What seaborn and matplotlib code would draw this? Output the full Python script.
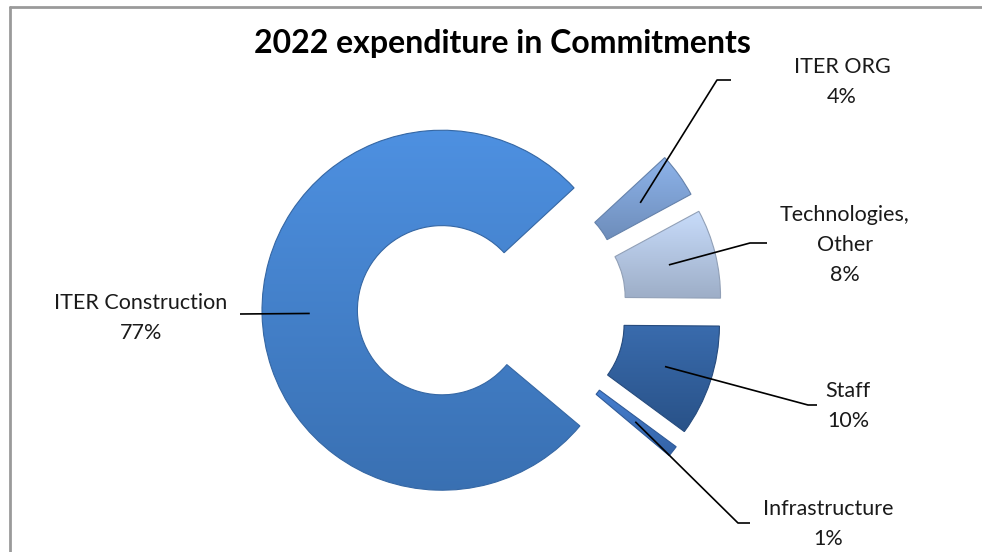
import numpy as np
import matplotlib
matplotlib.use("Agg")
import matplotlib.pyplot as plt
import seaborn as sns
from matplotlib.lines import Line2D
from matplotlib.patches import PathPatch
from matplotlib.colors import to_rgb

# ---- data ----
categories = ["ITER Construction", "ITER ORG", "Technologies,\nOther", "Staff", "Infrastructure"]
shares = [77, 4, 8, 10, 1]
pct_labels = ["77%", "4%", "8%", "10%", "1%"]
colors = ["#4281cd", "#7ea2d6", "#b5c8e5", "#2f5e9c", "#3b71be"]
title = "2022 expenditure in Commitments"

W, H = 982, 552
sns.set_theme(style="white")
plt.rcParams['font.family'] = ['Lato', 'DejaVu Sans']

fig = plt.figure(figsize=(W / 100, H / 100), dpi=100)
ax = fig.add_axes([0, 0, 1, 1])

R = 180
ring_w = 0.53 * R
expl = 50
cx, cy = 442 + expl, H - 309

wedges, _ = ax.pie(shares, radius=R, center=(cx, cy), explode=[expl] * len(shares),
                   counterclock=False, startangle=-40, colors=colors,
                   wedgeprops=dict(width=ring_w, edgecolor="none", linewidth=0))
ax.set_xlim(0, W)
ax.set_ylim(0, H)
ax.set_aspect("equal")
ax.axis("off")

# soft vertical gradient on each wedge (lighter top, darker bottom)
for w, c in zip(wedges, colors):
    base = np.array(to_rgb(c))
    top = np.clip(base * 1.06 + 0.03, 0, 1)
    bot = base * 0.87
    t = np.linspace(0, 1, 256)[:, None]
    grad = (top[None, :] * (1 - t) + bot[None, :] * t)[:, None, :]
    grad = np.repeat(grad, 2, axis=1)
    x0, y0, x1, y1 = w.get_path().get_extents(w.get_patch_transform()).extents
    im = ax.imshow(grad, extent=(x0, x1, y0, y1), origin="upper", aspect="auto",
                   interpolation="bilinear", zorder=w.get_zorder() + 0.1)
    im.set_clip_path(w)
    w.set_facecolor("none")
    ax.add_patch(PathPatch(w.get_path(), transform=w.get_patch_transform() + ax.transData,
                           fill=False, edgecolor=tuple(base * 0.8), lw=0.8,
                           zorder=w.get_zorder() + 0.2))
ax.set_xlim(0, W)
ax.set_ylim(0, H)

# label layout (image pixel coords, y downward)
label_pos = [(141, 303), (842, 67), (845, 215), (848, 391), (828, 509)]
leader_pts = [[(240, 314)],
              [(717, 80), (731, 80)],
              [(750, 243), (767, 243)],
              [(808, 405), (817, 405)],
              [(738, 523), (750, 523)]]
line_gap = 30

for w, cat, pct, (lx, ly), pts in zip(wedges, categories, pct_labels, label_pos, leader_pts):
    tm = np.deg2rad((w.theta1 + w.theta2) / 2)
    rm = w.r - w.width / 2
    axp = w.center[0] + rm * np.cos(tm)
    ayp = w.center[1] + rm * np.sin(tm)
    xs = [axp] + [p[0] for p in pts]
    ys = [ayp] + [H - p[1] for p in pts]
    ax.plot(xs, ys, color="black", lw=1.2, solid_capstyle="butt", zorder=5)
    lines = (cat + "\n" + pct).split("\n")
    for i, t in enumerate(lines):
        ax.text(lx, H - (ly + i * line_gap), t, ha="center", va="center",
                fontsize=15.5, color="#1a1a1a")

ax.text(502, H - 53, title, ha="center", va="baseline", fontsize=23,
        fontweight="bold", color="black")

# chart border
fig.add_artist(Line2D([10 / W, 1], [1 - 7 / H, 1 - 7 / H], transform=fig.transFigure,
                      color="#9a9a9a", lw=2))
fig.add_artist(Line2D([10 / W, 10 / W], [0, 1 - 7 / H], transform=fig.transFigure,
                      color="#9a9a9a", lw=2))

fig.savefig("out.png", dpi=100, facecolor="white")
